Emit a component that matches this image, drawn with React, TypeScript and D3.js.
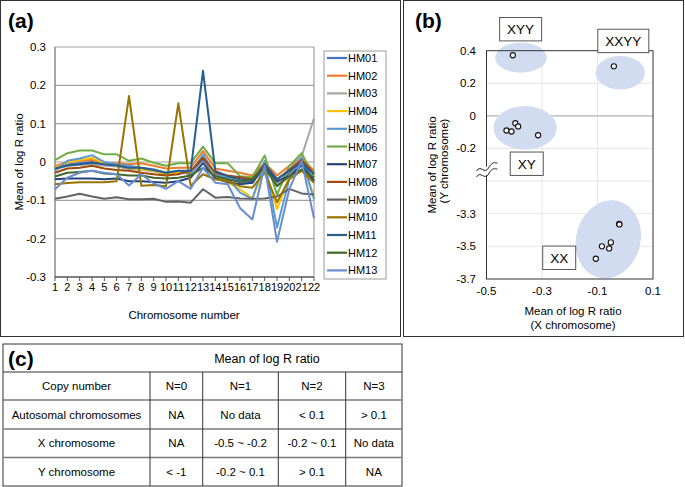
import React from 'react';
import * as d3 from 'd3';

// ---------- Panel (a) data ----------
const chromosomes = [1, 2, 3, 4, 5, 6, 7, 8, 9, 10, 11, 12, 13, 14, 15, 16, 17, 18, 19, 20, 21, 22];
const yTicksA = [0.3, 0.2, 0.1, 0, -0.1, -0.2, -0.3];
const sampleNames = ['HM01', 'HM02', 'HM03', 'HM04', 'HM05', 'HM06', 'HM07', 'HM08', 'HM09', 'HM10', 'HM11', 'HM12', 'HM13'];

const hm01 = [-0.019, -0.006, -0.003, 0.0, -0.006, -0.010, -0.017, -0.019, -0.023, -0.032, -0.028, -0.030, 0.007, -0.035, -0.045, -0.050, -0.055, -0.010, -0.054, -0.030, 0.007, -0.050];
const hm02 = [-0.010, 0.0, 0.003, 0.005, -0.002, -0.003, -0.006, -0.003, -0.010, -0.017, -0.015, -0.015, 0.029, -0.017, -0.023, -0.028, -0.035, -0.002, -0.035, -0.010, 0.011, -0.023];
const hm03 = [-0.020, -0.010, -0.008, -0.005, -0.010, -0.012, -0.018, -0.020, -0.025, -0.030, -0.027, -0.028, 0.015, -0.030, -0.040, -0.045, -0.050, -0.008, -0.060, -0.020, 0.015, 0.114];
const hm04 = [-0.015, -0.002, 0.005, 0.011, -0.003, -0.009, -0.015, -0.019, -0.023, -0.032, -0.028, -0.028, 0.016, -0.035, -0.054, -0.071, -0.095, -0.015, -0.123, -0.037, 0.003, -0.090];
const hm05 = [-0.023, 0.003, 0.009, 0.018, 0.0, -0.006, -0.010, -0.015, -0.019, -0.028, -0.023, -0.032, 0.020, -0.032, -0.041, -0.080, -0.097, 0.003, -0.171, -0.045, 0.011, -0.097];
const hm06 = [0.005, 0.023, 0.030, 0.030, 0.020, 0.020, 0.003, 0.009, -0.002, -0.010, -0.003, -0.003, 0.040, -0.003, -0.003, -0.037, -0.040, 0.017, -0.085, -0.010, 0.023, -0.040];
const hm07 = [-0.045, -0.043, -0.043, -0.043, -0.045, -0.043, -0.050, -0.050, -0.052, -0.054, -0.050, -0.041, -0.003, -0.043, -0.052, -0.058, -0.054, -0.010, -0.050, -0.037, -0.009, -0.050];
const hm08 = [-0.028, -0.017, -0.015, -0.010, -0.017, -0.021, -0.023, -0.028, -0.032, -0.035, -0.032, -0.023, 0.011, -0.028, -0.035, -0.040, -0.045, -0.006, -0.045, -0.020, 0.005, -0.030];
const hm09 = [-0.096, -0.090, -0.083, -0.090, -0.096, -0.092, -0.097, -0.097, -0.096, -0.104, -0.103, -0.106, -0.071, -0.093, -0.091, -0.095, -0.096, -0.095, -0.090, -0.070, -0.082, -0.085];
const hm10 = [-0.058, -0.055, -0.053, -0.053, -0.053, -0.050, 0.172, -0.062, -0.060, -0.063, 0.153, -0.062, -0.032, -0.045, -0.050, -0.063, -0.067, -0.028, -0.105, -0.045, -0.023, -0.054];
const hm11 = [-0.017, -0.009, -0.006, -0.002, -0.006, -0.009, -0.015, -0.015, -0.021, -0.028, -0.023, -0.023, 0.238, -0.023, -0.037, -0.045, -0.050, -0.006, -0.045, -0.023, -0.002, -0.032];
const hm12 = [-0.038, -0.028, -0.026, -0.023, -0.030, -0.032, -0.035, -0.035, -0.041, -0.043, -0.041, -0.035, -0.015, -0.037, -0.045, -0.052, -0.045, -0.015, -0.063, -0.037, -0.019, -0.041];
const hm13 = [-0.071, -0.041, -0.028, -0.023, -0.028, -0.032, -0.061, -0.032, -0.056, -0.070, -0.050, -0.070, -0.015, -0.054, -0.058, -0.120, -0.150, -0.010, -0.208, -0.071, 0.003, -0.147];

const seriesValues = [hm01, hm02, hm03, hm04, hm05, hm06, hm07, hm08, hm09, hm10, hm11, hm12, hm13];
const seriesColors = ['#4472C4', '#ED7D31', '#A5A5A5', '#FFC000', '#5B9BD5', '#70AD47', '#264478', '#9E480E', '#636363', '#997300', '#255E91', '#43682B', '#698ED0'];

// ---------- Panel (b) data ----------
const xTicksB = [-0.5, -0.3, -0.1, 0.1];
const yTicksB = [0.4, 0.2, 0, -0.2, -3.3, -3.5, -3.7];
const xGridB = [-0.3, -0.1];
const yGridB = [0.2, -0.2, -0.4, -3.3, -3.5];
const groupNames = ['XYY', 'XXYY', 'XY', 'XX'];
const xyyX = [-0.405];
const xyyY = [0.372];
const xxyyX = [-0.041];
const xxyyY = [0.304];
const xyX = [-0.428, -0.41, -0.396, -0.386, -0.314];
const xyY = [-0.09, -0.096, -0.045, -0.065, -0.119];
const xxX = [-0.022, -0.021, -0.052, -0.058, -0.084, -0.106];
const xxY = [-3.363, -3.366, -3.476, -3.513, -3.500, -3.576];
const groupX = [xyyX, xxyyX, xyX, xxX];
const groupY = [xyyY, xxyyY, xyY, xxY];
// ellipse regions in data units: centre x, centre y, half-width, half-height
const regionCx = [-0.376, -0.018, -0.361, -0.061];
const regionCy = [0.357, 0.265, -0.074, -3.457];
const regionRx = [0.093, 0.089, 0.114, 0.116];
const regionRy = [0.092, 0.103, 0.134, 0.243];
const regionTilt = [0, 0, 0, 15];
// label-box anchors in data units
const labelX = [-0.377, -0.007, -0.355, -0.238];
const labelY = [0.532, 0.46, -0.294, -3.57];

// ---------- Panel (c) data ----------
const tableTitle = 'Mean of log R ratio';
const tableHeader = ['Copy number', 'N=0', 'N=1', 'N=2', 'N=3'];
const tableRows = [
  ['Autosomal chromosomes', 'NA', 'No data', '< 0.1', '> 0.1'],
  ['X chromosome', 'NA', '-0.5 ~ -0.2', '-0.2 ~ 0.1', 'No data'],
  ['Y chromosome', '< -1', '-0.2 ~ 0.1', '> 0.1', 'NA'],
];

const FONT = '"Liberation Sans", Arial, Helvetica, sans-serif';

function fmt(v: number) {
  if (v === 0) return '0';
  return String(v);
}

function PanelA() {
  const x = d3.scalePoint<number>().domain(chromosomes).range([55, 314]).padding(0);
  const y = d3.scaleLinear().domain([-0.3, 0.3]).range([277, 47]);
  const line = d3.line<number>().x((_, i) => x(chromosomes[i]) as number).y((d) => y(d));
  const legendX = 324;
  const legendY0 = 58;
  const legendStep = 17.7;
  return (
    <g>
      <rect x={0.5} y={0.5} width={400} height={336} fill="none" stroke="#333" strokeWidth={1} />
      <text x={8} y={28} fontSize={21} fontWeight="bold">(a)</text>
      {yTicksA.map((t) => (
        <g key={t}>
          {t > -0.3 && (
            <line x1={55} x2={314} y1={y(t)} y2={y(t)} stroke="#a0a0a0" strokeWidth={1.2} />
          )}
          <text x={46} y={y(t) + 4} fontSize={11.5} textAnchor="end">{fmt(t)}</text>
        </g>
      ))}
      <line x1={55} x2={55} y1={47} y2={277} stroke="#8a8a8a" strokeWidth={1.5} />
      <line x1={314} x2={314} y1={47} y2={277} stroke="#a0a0a0" strokeWidth={1.2} />
      <line x1={55} x2={314} y1={277} y2={277} stroke="#555" strokeWidth={1.5} />
      {chromosomes.map((c) => (
        <g key={c}>
          <line x1={x(c)} x2={x(c)} y1={277} y2={281} stroke="#555" strokeWidth={1} />
          <text x={x(c)} y={291} fontSize={11} textAnchor="middle">{c}</text>
        </g>
      ))}
      {seriesValues.map((vals, i) => (
        <path key={i} d={line(vals) || ''} fill="none" stroke={seriesColors[i]} strokeWidth={2} strokeLinejoin="round" />
      ))}
      <text x={184} y={319} fontSize={11.5} textAnchor="middle">Chromosome number</text>
      <text transform="translate(23,162) rotate(-90)" fontSize={11.5} textAnchor="middle">Mean of log R ratio</text>
      <rect x={legendX} y={51} width={62} height={228} fill="#fff" stroke="#9a9a9a" strokeWidth={1} />
      {sampleNames.map((n, i) => (
        <g key={n}>
          <line x1={327} x2={347} y1={legendY0 + i * legendStep} y2={legendY0 + i * legendStep} stroke={seriesColors[i]} strokeWidth={2.2} />
          <text x={348} y={legendY0 + i * legendStep + 4} fontSize={11}>{n}</text>
        </g>
      ))}
    </g>
  );
}

function PanelB() {
  const x = d3.scaleLinear().domain([-0.5, 0.1]).range([486.5, 653]);
  // broken axis: the stretch between -3.1 and -0.4 collapses into the break
  const y = d3.scaleLinear().domain([-3.7, -3.1, -0.4, 0.4]).range([279, 181, 181, 50.7]);
  const left = 486.5, right = 653, top = 50.7, bottom = 279;
  const kx = x(1) - x(0);
  const ky = y(0) - y(1);
  const bx = left;
  const by = y(-0.4) - 12;
  const wave1 = `M ${bx - 10} ${by + 2} C ${bx - 6} ${by - 5}, ${bx - 2} ${by + 6}, ${bx + 2} ${by - 1} S ${bx + 8} ${by - 6}, ${bx + 11} ${by - 6}`;
  const wave2 = `M ${bx - 10} ${by + 8} C ${bx - 6} ${by + 1}, ${bx - 2} ${by + 12}, ${bx + 2} ${by + 5} S ${bx + 8} ${by}, ${bx + 11} ${by}`;
  const fillPath = `M ${bx - 2} ${by - 2} L ${bx + 3} ${by - 3} L ${bx + 3} ${by + 5} L ${bx - 2} ${by + 7} Z`;
  return (
    <g>
      <rect x={403.5} y={0.5} width={280} height={336} fill="none" stroke="#333" strokeWidth={1} />
      <text x={415} y={28} fontSize={21} fontWeight="bold">(b)</text>
      {yGridB.map((t) => (
        <line key={t} x1={left} x2={right} y1={y(t)} y2={y(t)} stroke="#e6e6e6" strokeWidth={1} />
      ))}
      {xGridB.map((t) => (
        <line key={t} x1={x(t)} x2={x(t)} y1={top} y2={bottom} stroke="#e6e6e6" strokeWidth={1} />
      ))}
      <line x1={left} x2={right} y1={y(0)} y2={y(0)} stroke="#b0b0b0" strokeWidth={1.3} />
      {groupNames.map((g, i) => (
        <ellipse
          key={g}
          cx={x(regionCx[i])}
          cy={y(regionCy[i])}
          rx={regionRx[i] * kx}
          ry={regionRy[i] * ky}
          transform={`rotate(${regionTilt[i]} ${x(regionCx[i])} ${y(regionCy[i])})`}
          fill="#d2dcf0"
        />
      ))}
      <rect x={left} y={top} width={right - left} height={bottom - top} fill="none" stroke="#333" strokeWidth={1} />
      {groupX.map((xs, gi) =>
        xs.map((xv, j) => (
          <circle key={gi + '-' + j} cx={x(xv)} cy={y(groupY[gi][j])} r={2.6} fill="#fff" stroke="#111" strokeWidth={1.1} />
        ))
      )}
      {yTicksB.map((t) => (
        <text key={t} x={476} y={y(t) + 4} fontSize={11.5} textAnchor="end">{fmt(t)}</text>
      ))}
      {xTicksB.map((t) => (
        <text key={t} x={x(t)} y={295} fontSize={11.5} textAnchor="middle">{fmt(t)}</text>
      ))}
      <path d={fillPath} fill="#fff" />
      <path d={wave1} fill="none" stroke="#222" strokeWidth={1} />
      <path d={wave2} fill="none" stroke="#222" strokeWidth={1} />
      {groupNames.map((g, i) => {
        const w = 15 + 9 * g.length;
        const cx = x(labelX[i]);
        const cy = y(labelY[i]);
        return (
          <g key={g}>
            <rect x={cx - w / 2} y={cy - 11.7} width={w} height={23.4} fill="#fff" stroke="#555" strokeWidth={1} />
            <text x={cx} y={cy + 5} fontSize={13.5} textAnchor="middle">{g}</text>
          </g>
        );
      })}
      <text x={573} y={315} fontSize={11.5} textAnchor="middle">Mean of log R ratio</text>
      <text x={573} y={329} fontSize={11.5} textAnchor="middle">(X chromosome)</text>
      <text transform="translate(436,165) rotate(-90)" fontSize={11.5} textAnchor="middle">Mean of log R ratio</text>
      <text transform="translate(448,161) rotate(-90)" fontSize={11.5} textAnchor="middle">(Y chromosome)</text>
    </g>
  );
}

function PanelC() {
  const colEdges = [3, 150, 202.7, 278.3, 345.7, 402];
  const rowEdges = [344, 372, 400, 429, 457.5, 486];
  const rows = [tableHeader, ...tableRows];
  return (
    <g>
      <rect x={3} y={344} width={399} height={142} fill="none" stroke="#333" strokeWidth={1} />
      <text x={8} y={366} fontSize={21} fontWeight="bold">(c)</text>
      <text x={267} y={363} fontSize={12.5} textAnchor="middle">{tableTitle}</text>
      <line x1={3} x2={402} y1={372} y2={372} stroke="#333" strokeWidth={1} />
      {rowEdges.slice(2, 5).map((ry) => (
        <line key={ry} x1={3} x2={402} y1={ry} y2={ry} stroke="#7a7a7a" strokeWidth={1.6} />
      ))}
      {colEdges.slice(1, 5).map((cx) => (
        <line key={cx} x1={cx} x2={cx} y1={372} y2={486} stroke="#333" strokeWidth={1} />
      ))}
      {rows.map((r, ri) =>
        r.map((cell, ci) => (
          <text
            key={ri + '-' + ci}
            x={(colEdges[ci] + colEdges[ci + 1]) / 2}
            y={(rowEdges[ri + 1] + rowEdges[ri + 2]) / 2 + 4}
            fontSize={11.5}
            textAnchor="middle"
          >
            {cell}
          </text>
        ))
      )}
    </g>
  );
}

export default function App() {
  return (
    <svg
      width={685}
      height={487}
      viewBox="0 0 685 487"
      style={{ position: 'absolute', left: 0, top: 0, background: '#fff' }}
      fontFamily={FONT}
      fill="#000"
    >
      <rect x={0} y={0} width={685} height={487} fill="#fff" />
      <PanelA />
      <PanelB />
      <PanelC />
    </svg>
  );
}
